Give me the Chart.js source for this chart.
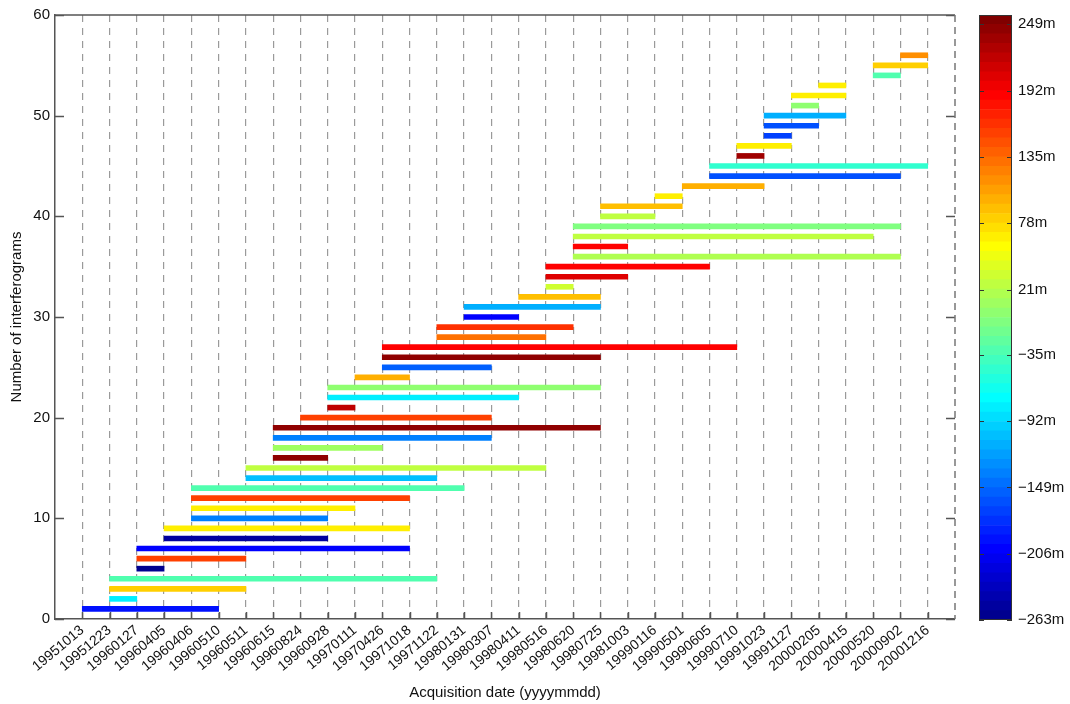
<!DOCTYPE html>
<html>
<head>
<meta charset="utf-8">
<title>Interferogram network</title>
<script src="https://cdn.jsdelivr.net/npm/chart.js@4/dist/chart.umd.min.js"></script>
<style>
  html, body { margin: 0; padding: 0; background: #fff; }
  #wrap { position: relative; width: 1070px; height: 704px; overflow: hidden; }
  #main { position: absolute; left: 0; top: 0; }
  #cbar { position: absolute; left: 960px; top: 0; }
</style>
</head>
<body>
<div id="wrap">
  <canvas id="main" width="1070" height="704"></canvas>
  <canvas id="cbar" width="110" height="704"></canvas>
</div>
<script>
// Acquisition dates (x positions 1..32)
const dates = [
  '19951013','19951223','19960127','19960405','19960406','19960510','19960511','19960615',
  '19960824','19960928','19970111','19970426','19971018','19971122','19980131','19980307',
  '19980411','19980516','19980620','19980725','19981003','19990116','19990501','19990605',
  '19990710','19991023','19991127','20000205','20000415','20000520','20000902','20001216'
];

// Interferogram n (1..56): master / slave acquisition index
const pairStart = [1,2,2,2,3,3,3,4,4,5,5,5,5,7,7,8,8,8,8,9,10,10,10,11,12,12,12,14,14,15,15,17,
                   18,18,18,19,19,19,19,20,20,22,23,24,24,25,25,26,26,26,27,27,28,30,30,31];
const pairEnd   = [6,3,7,14,4,7,13,10,13,10,11,13,15,14,18,10,12,16,20,16,11,17,20,13,16,20,25,18,
                   19,17,20,20,19,21,24,31,21,30,31,22,23,23,26,31,32,26,27,27,28,29,28,29,29,31,32,32];

// Perpendicular baseline of each interferogram (m)
const baselines = [-190,-84,80,-35,-257,155,-200,-250,70,-140,68,155,-35,-104,24,244,8,-140,244,155,
                   223,-84,3,95,-150,244,188,132,164,-200,-112,90,30,205,185,20,185,24,-7,24,90,65,97,
                   -158,-45,240,70,-168,-158,-115,3,68,65,-35,85,116];

const yTicks = [0,10,20,30,40,50,60];
const cbTicks = [-263,-206,-149,-92,-35,21,78,135,192,249];
const cMin = -263, cMax = 257, nLevels = 64;

// MATLAB-style jet(64) colormap row k (0-based)
function jet64(k) {
  const n = 16;
  const u = [];
  for (let i = 1; i <= n; i++) u.push(i / n);
  for (let i = 0; i < n - 1; i++) u.push(1);
  for (let i = n; i >= 1; i--) u.push(i / n);
  const row = k + 1;
  const pick = idx => (idx >= 1 && idx <= u.length) ? u[idx - 1] : 0;
  const r = pick(row - 24), g = pick(row - 8), b = pick(row + 8);
  return `rgb(${Math.round(r * 255)},${Math.round(g * 255)},${Math.round(b * 255)})`;
}
function colorFor(v) {
  let k = Math.floor((v - cMin) / (cMax - cMin) * nLevels);
  k = Math.max(0, Math.min(nLevels - 1, k));
  return jet64(k);
}
function fmtMeters(v) {
  return (v < 0 ? '\u2212' + Math.abs(v) : String(v)) + 'm';
}

Chart.defaults.font.family = '"Liberation Sans", Arial, Helvetica, sans-serif';
Chart.defaults.font.size = 15;
Chart.defaults.color = '#111';

const AXIS_COLOR = '#555';

// Box outline plus inward-pointing tick marks
const frameTicks = {
  id: 'frameTicks',
  afterDraw(chart) {
    const { ctx, chartArea: a, scales: { x, y } } = chart;
    ctx.save();
    ctx.strokeStyle = AXIS_COLOR;
    ctx.lineWidth = 1.5;
    ctx.beginPath();
    ctx.moveTo(a.left, a.top);
    ctx.lineTo(a.right, a.top);
    y.ticks.forEach(t => {
      const py = Math.round(y.getPixelForValue(t.value)) + 0.5;
      ctx.moveTo(a.left, py); ctx.lineTo(a.left + 9, py);
      ctx.moveTo(a.right, py); ctx.lineTo(a.right - 9, py);
    });
    x.ticks.forEach(t => {
      const px = Math.round(x.getPixelForValue(t.value)) + 0.5;
      ctx.moveTo(px, a.bottom); ctx.lineTo(px, a.bottom - 7);
    });
    ctx.stroke();
    ctx.strokeStyle = '#777';
    ctx.setLineDash([7, 5]);
    ctx.beginPath();
    ctx.moveTo(a.right, a.top);
    ctx.lineTo(a.right, a.bottom);
    ctx.stroke();
    ctx.restore();
  }
};

new Chart(document.getElementById('main'), {
  type: 'bar',
  data: {
    datasets: [{
      data: pairStart.map((s, i) => ({ x: [s, pairEnd[i]], y: i + 1 })),
      backgroundColor: baselines.map(colorFor),
      borderWidth: 0,
      barThickness: 5
    }]
  },
  options: {
    indexAxis: 'y',
    responsive: false,
    animation: false,
    layout: { padding: { left: 0, top: 15, right: 1070 - 955, bottom: 0 } },
    plugins: { legend: { display: false }, tooltip: { enabled: false } },
    scales: {
      x: {
        type: 'linear', min: 0, max: dates.length + 1, position: 'bottom',
        afterBuildTicks: s => { s.ticks = dates.map((d, i) => ({ value: i + 1 })); },
        afterFit: s => { s.height = 704 - 619; },
        ticks: {
          autoSkip: false, maxRotation: 40, minRotation: 40, padding: 3,
          font: { size: 14 },
          callback: v => dates[v - 1] || ''
        },
        grid: { display: true, drawOnChartArea: true, drawTicks: false, color: '#9a9a9a', lineWidth: 1.2 },
        border: { display: true, color: AXIS_COLOR, width: 1.5, dash: [7, 6] },
        title: { display: true, text: 'Acquisition date (yyyymmdd)', padding: { top: 0, bottom: 2 }, font: { size: 15 } }
      },
      y: {
        type: 'linear', min: 0, max: 60, offset: false,
        afterBuildTicks: s => { s.ticks = yTicks.map(v => ({ value: v })); },
        afterFit: s => { s.width = 55; },
        ticks: { padding: 5, font: { size: 15 } },
        grid: { display: false, drawTicks: false, offset: false },
        border: { display: true, color: AXIS_COLOR, width: 1.5 },
        title: { display: true, text: 'Number of interferograms', padding: { top: 8, bottom: 0 }, font: { size: 15 } }
      }
    }
  },
  plugins: [frameTicks]
});

// Colour bar: one floating bar per colormap level
const levelStep = (cMax - cMin) / nLevels;
const cbFrame = {
  id: 'cbFrame',
  afterDraw(chart) {
    const { ctx, chartArea: a, scales: { y } } = chart;
    ctx.save();
    ctx.strokeStyle = '#333';
    ctx.lineWidth = 1;
    ctx.strokeRect(a.left + 0.5, a.top + 0.5, a.right - a.left - 1, a.bottom - a.top - 1);
    ctx.beginPath();
    y.ticks.forEach(t => {
      const py = Math.round(y.getPixelForValue(t.value)) + 0.5;
      ctx.moveTo(a.left, py); ctx.lineTo(a.left + 5, py);
      ctx.moveTo(a.right, py); ctx.lineTo(a.right - 5, py);
    });
    ctx.stroke();
    ctx.restore();
  }
};

new Chart(document.getElementById('cbar'), {
  type: 'bar',
  data: {
    labels: [''],
    datasets: Array.from({ length: nLevels }, (_, k) => ({
      data: [[cMin + k * levelStep, cMin + (k + 1) * levelStep]],
      backgroundColor: jet64(k),
      borderWidth: 0,
      grouped: false,
      barPercentage: 1,
      categoryPercentage: 1
    }))
  },
  options: {
    responsive: false,
    animation: false,
    layout: { padding: { left: 19, top: 15, right: 0, bottom: 704 - 620 } },
    plugins: { legend: { display: false }, tooltip: { enabled: false } },
    scales: {
      x: { display: false },
      y: {
        position: 'right', min: cMin, max: cMax,
        afterBuildTicks: s => { s.ticks = cbTicks.map(v => ({ value: v })); },
        afterFit: s => { s.width = 110 - 52; },
        ticks: { padding: 6, font: { size: 15 }, callback: v => fmtMeters(v) },
        grid: { display: false, drawTicks: false },
        border: { display: false }
      }
    }
  },
  plugins: [cbFrame]
});
</script>
</body>
</html>
